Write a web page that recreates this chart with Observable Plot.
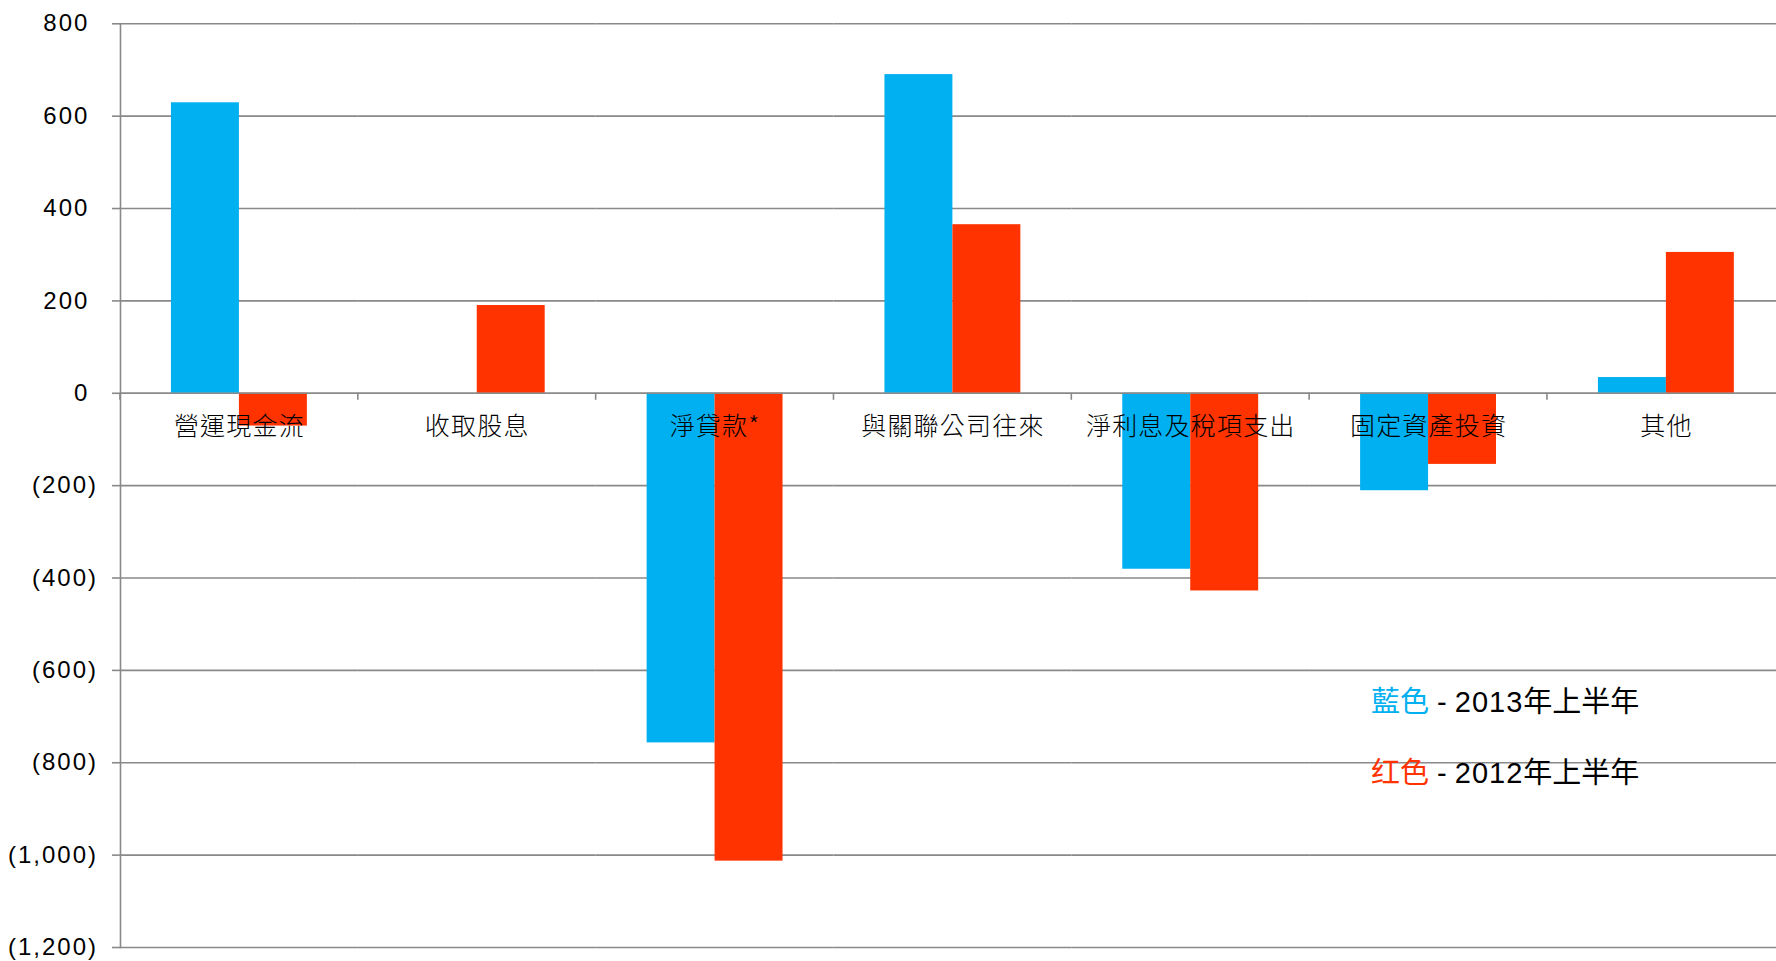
<!DOCTYPE html>
<html>
<head>
<meta charset="utf-8">
<script src="https://cdn.jsdelivr.net/npm/d3@7"></script>
<script src="https://cdn.jsdelivr.net/npm/@observablehq/plot@0.6"></script>
<style>
html, body { margin: 0; padding: 0; background: #fff; overflow: hidden; }
#wrap { position: relative; width: 1776px; height: 961px; }
.legend { position: absolute; left: 1371px; font-family: "Liberation Sans", "Noto Sans CJK TC", sans-serif; font-size: 29px; line-height: 29px; color: #000; white-space: nowrap; }
.legend .num { letter-spacing: 1px; }
</style>
</head>
<body>
<div id="wrap"></div>
<script>
// ---- data ----
const categories = ["營運現金流", "收取股息", "淨貸款*", "與關聯公司往來", "淨利息及稅項支出", "固定資產投資", "其他"];
const seriesNames = ["2013年上半年", "2012年上半年"];
const values2013 = [629, 0, -757, 690, -381, -211, 34];
const values2012 = [-71, 190, -1013, 365, -428, -154, 305];
const yTicks = [800, 600, 400, 200, 0, -200, -400, -600, -800, -1000, -1200];
const legendColorWords = ["藍色", "红色"];
const seriesColors = ["#00B0F0", "#FF3300"];

const rows = categories.flatMap((c, i) => [
  {cat: c, series: seriesNames[0], value: values2013[i]},
  {cat: c, series: seriesNames[1], value: values2012[i]}
]);

const gray = "#898989";
const fmtNum = d3.format(",");
const tickFmt = v => v < 0 ? `(${fmtNum(-v)})` : `${fmtNum(v)}\u2008`;

// small category-boundary ticks below the zero line (one per facet, at its left edge)
const boundaryTicks = (index, scales, values, dims) => {
  const y0 = scales.y(0);
  const g = d3.create("svg:g");
  g.append("line")
    .attr("x1", dims.marginLeft).attr("x2", dims.marginLeft)
    .attr("y1", y0).attr("y2", y0 + 7)
    .attr("stroke", gray).attr("stroke-width", 1.6);
  return g.node();
};

const chart = Plot.plot({
  width: 1776,
  height: 961,
  marginTop: 23.3,
  marginBottom: 14,
  marginLeft: 120,
  marginRight: -8.8,
  style: {fontFamily: "Liberation Sans, Noto Sans CJK TC, sans-serif", fontSize: "24px", color: "#000", background: "#fff"},
  fx: {domain: categories, padding: 0, round: false, axis: null, label: null},
  x: {domain: seriesNames, paddingInner: 0, paddingOuter: 0.75, round: false, axis: null, label: null},
  y: {domain: [-1200, 800], label: null},
  color: {domain: seriesNames, range: seriesColors},
  marks: [
    Plot.gridY(yTicks, {stroke: gray, strokeOpacity: 1, strokeWidth: 1.6}),
    Plot.barY(rows, {fx: "cat", x: "series", y: "value", fill: "series"}),
    Plot.ruleY([0], {stroke: gray, strokeWidth: 1.6}),
    Plot.frame({anchor: "left", facetAnchor: "left", stroke: gray, strokeWidth: 1.6}),
    Plot.axisY(yTicks, {label: null, tickSize: 8, tickPadding: 14.5, stroke: gray, strokeWidth: 1.6, strokeOpacity: 1, tickFormat: tickFmt, fontSize: 24, fill: "#000"}),
    boundaryTicks,
    Plot.text(categories, {fx: d => d, y: 0, text: d => d, dy: 34, fontSize: 25, fontFamily: "Noto Sans CJK TC", fill: "#000", fontWeight: 300})
  ]
});

d3.select(chart).selectAll('g[aria-label="y-axis tick label"] text').style("letter-spacing", "2px");
d3.select(chart).selectAll('g[aria-label="text"] text').style("letter-spacing", "1.2px");

const wrap = document.getElementById("wrap");
wrap.appendChild(chart);

// legend overlay
const legendTops = [688, 759];
seriesNames.forEach((s, i) => {
  const div = document.createElement("div");
  div.className = "legend";
  div.style.top = legendTops[i] + "px";
  const m = s.match(/^(\d+)(.*)$/);
  div.innerHTML = `<span style="color:${seriesColors[i]}">${legendColorWords[i]}</span> - <span class="num">${m[1]}</span>${m[2]}`;
  wrap.appendChild(div);
});
</script>
</body>
</html>
